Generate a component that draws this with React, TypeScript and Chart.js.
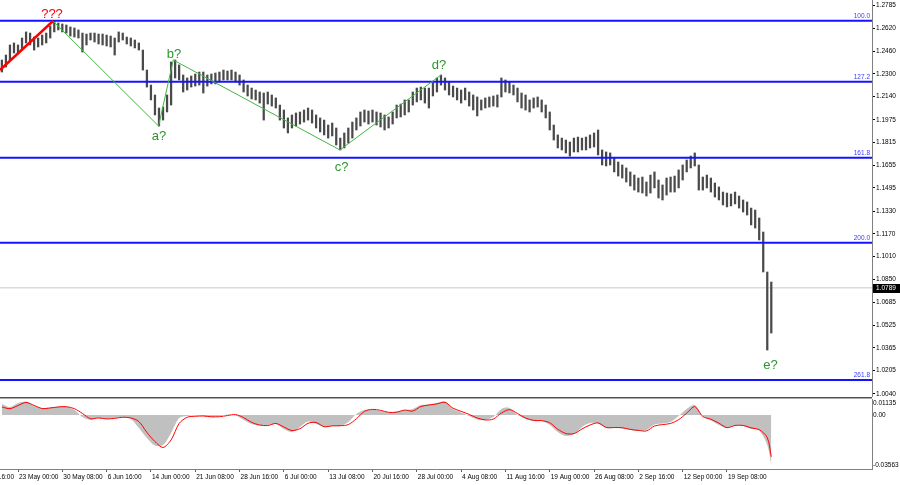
import { useEffect, useRef } from 'react';
import { Chart, registerables } from 'chart.js';

Chart.register(...registerables);

const FONT = '"Liberation Sans", Arial, sans-serif';

// Price bars (each bar ~ a few H4 candles): highs and lows
const barHigh = [
  1.2397, 1.2432, 1.2503, 1.2517, 1.2503, 1.2552, 1.2595, 1.2587, 1.2559, 1.2552,
  1.2573, 1.2587, 1.2637, 1.2672, 1.2658, 1.2651, 1.2644, 1.2630, 1.2623, 1.2609,
  1.2587, 1.2580, 1.2587, 1.2587, 1.2580, 1.2580, 1.2573, 1.2566, 1.2552, 1.2595,
  1.2587, 1.2559, 1.2552, 1.2538, 1.2517, 1.2467, 1.2326, 1.2220, 1.2150, 1.2058,
  1.2065, 1.2150, 1.2383, 1.2397, 1.2362, 1.2291, 1.2270, 1.2284, 1.2298, 1.2312,
  1.2312, 1.2291, 1.2298, 1.2305, 1.2312, 1.2326, 1.2319, 1.2326, 1.2312, 1.2291,
  1.2256, 1.2220, 1.2199, 1.2185, 1.2171, 1.2164, 1.2171, 1.2150, 1.2129, 1.2079,
  1.2044, 1.1988, 1.2009, 1.2023, 1.2030, 1.2044, 1.2058, 1.2044, 1.2009, 1.1988,
  1.1973, 1.1938, 1.1952, 1.1917, 1.1846, 1.1882, 1.1917, 1.1959, 1.1988, 1.2030,
  1.2044, 1.2037, 1.2044, 1.2030, 1.2023, 1.2009, 1.1995, 1.2030, 1.2079, 1.2086,
  1.2115, 1.2115, 1.2171, 1.2199, 1.2206, 1.2199, 1.2199, 1.2235, 1.2270, 1.2291,
  1.2270, 1.2242, 1.2213, 1.2199, 1.2185, 1.2199, 1.2171, 1.2150, 1.2136, 1.2115,
  1.2129, 1.2136, 1.2143, 1.2150, 1.2270, 1.2256, 1.2242, 1.2220, 1.2199, 1.2164,
  1.2150, 1.2115, 1.2129, 1.2136, 1.2115, 1.2079, 1.2030, 1.1938, 1.1868, 1.1846,
  1.1832, 1.1818, 1.1846, 1.1853, 1.1846, 1.1853, 1.1868, 1.1882, 1.1903, 1.1762,
  1.1748, 1.1741, 1.1705, 1.1677, 1.1656, 1.1635, 1.1607, 1.1585, 1.1564, 1.1571,
  1.1536, 1.1585, 1.1607, 1.1550, 1.1515, 1.1564, 1.1571, 1.1578, 1.1621, 1.1656,
  1.1691, 1.1719, 1.1741, 1.1656, 1.1571, 1.1585, 1.1564, 1.1529, 1.1501, 1.1465,
  1.1458, 1.1451, 1.1465, 1.1437, 1.1409, 1.1395, 1.1352, 1.1338, 1.1282, 1.1183,
  1.0901, 1.0830,
];
const barLow = [
  1.2312, 1.2347, 1.2397, 1.2446, 1.2439, 1.2467, 1.2517, 1.2503, 1.2467, 1.2489,
  1.2503, 1.2517, 1.2552, 1.2595, 1.2609, 1.2595, 1.2587, 1.2566, 1.2559, 1.2552,
  1.2453, 1.2503, 1.2538, 1.2524, 1.2510, 1.2503, 1.2496, 1.2489, 1.2432, 1.2524,
  1.2538, 1.2510, 1.2496, 1.2482, 1.2467, 1.2326, 1.2206, 1.2115, 1.2009, 1.1931,
  1.1973, 1.2030, 1.2079, 1.2270, 1.2256, 1.2171, 1.2185, 1.2206, 1.2213, 1.2220,
  1.2164, 1.2213, 1.2228, 1.2228, 1.2242, 1.2256, 1.2256, 1.2256, 1.2242, 1.2220,
  1.2171, 1.2143, 1.2122, 1.2115, 1.2093, 1.1973, 1.2086, 1.2072, 1.2058, 1.1973,
  1.1917, 1.1882, 1.1917, 1.1931, 1.1945, 1.1959, 1.1973, 1.1952, 1.1917, 1.1889,
  1.1868, 1.1846, 1.1861, 1.1797, 1.1762, 1.1776, 1.1811, 1.1846, 1.1903, 1.1931,
  1.1959, 1.1945, 1.1959, 1.1938, 1.1924, 1.1903, 1.1917, 1.1945, 1.1988, 1.1995,
  1.2009, 1.2030, 1.2079, 1.2101, 1.2115, 1.2093, 1.2058, 1.2143, 1.2171, 1.2220,
  1.2185, 1.2150, 1.2136, 1.2115, 1.2093, 1.2115, 1.2072, 1.2044, 1.2002, 1.2044,
  1.2058, 1.2065, 1.2072, 1.2065, 1.2136, 1.2171, 1.2164, 1.2150, 1.2101, 1.2058,
  1.2044, 1.2030, 1.2058, 1.2065, 1.2030, 1.1988, 1.1903, 1.1832, 1.1776, 1.1762,
  1.1741, 1.1719, 1.1748, 1.1748, 1.1762, 1.1762, 1.1776, 1.1783, 1.1727, 1.1656,
  1.1649, 1.1656, 1.1607, 1.1578, 1.1564, 1.1536, 1.1508, 1.1479, 1.1465, 1.1458,
  1.1437, 1.1458, 1.1494, 1.1423, 1.1409, 1.1444, 1.1465, 1.1465, 1.1494, 1.1550,
  1.1607, 1.1635, 1.1649, 1.1479, 1.1479, 1.1494, 1.1465, 1.1430, 1.1409, 1.1374,
  1.1360, 1.1367, 1.1381, 1.1352, 1.1324, 1.1303, 1.1233, 1.1211, 1.1127, 1.0901,
  1.0350, 1.0470,
];

// MACD (sampled every 2 bars, last value at the final bar)
const macdHist = [
  0.0078, 0.0057, 0.0085, 0.0096, 0.0064, 0.0050, 0.0053, 0.0060, 0.0060, 0.0035,
  -0.0014, -0.0035, -0.0021, -0.0028, -0.0021, -0.0014, -0.0028, -0.0092, -0.0163, -0.0216,
  -0.0213, -0.0128, -0.0021, -0.0007, -0.0004, -0.0007, -0.0014, -0.0007, 0.0004, -0.0004,
  -0.0035, -0.0064, -0.0074, -0.0071, -0.0064, -0.0099, -0.0121, -0.0085, -0.0046, -0.0064,
  -0.0085, -0.0078, -0.0078, -0.0050, 0.0007, 0.0035, 0.0039, 0.0028, 0.0018, 0.0025,
  0.0035, 0.0043, 0.0071, 0.0074, 0.0085, 0.0096, 0.0043, 0.0018, -0.0007, -0.0032,
  -0.0035, -0.0014, 0.0043, 0.0050, 0.0000, -0.0028, -0.0043, -0.0043, -0.0071, -0.0121,
  -0.0149, -0.0135, -0.0085, -0.0057, -0.0060, -0.0092, -0.0092, -0.0096, -0.0106, -0.0113,
  -0.0106, -0.0067, -0.0060, -0.0050, -0.0007, 0.0043, 0.0071, -0.0007, -0.0039, -0.0071,
  -0.0092, -0.0071, -0.0078, -0.0099, -0.0110, -0.0213, -0.0356,
];
const macdSignal = [
  0.0057, 0.0045, 0.0067, 0.0089, 0.0068, 0.0046, 0.0050, 0.0057, 0.0059, 0.0045,
  0.0011, -0.0026, -0.0021, -0.0028, -0.0024, -0.0016, -0.0021, -0.0046, -0.0124, -0.0188,
  -0.0230, -0.0177, -0.0060, -0.0016, -0.0009, -0.0007, -0.0013, -0.0012, -0.0004, 0.0003,
  -0.0018, -0.0052, -0.0071, -0.0075, -0.0060, -0.0085, -0.0110, -0.0097, -0.0059, -0.0053,
  -0.0083, -0.0077, -0.0076, -0.0068, -0.0027, 0.0026, 0.0040, 0.0033, 0.0019, 0.0020,
  0.0035, 0.0028, 0.0060, 0.0071, 0.0079, 0.0090, 0.0048, 0.0026, 0.0004, -0.0021,
  -0.0035, -0.0029, 0.0014, 0.0038, 0.0011, -0.0021, -0.0038, -0.0040, -0.0055, -0.0101,
  -0.0131, -0.0132, -0.0099, -0.0071, -0.0056, -0.0088, -0.0089, -0.0090, -0.0102, -0.0109,
  -0.0113, -0.0078, -0.0068, -0.0060, -0.0033, 0.0013, 0.0059, -0.0011, -0.0030, -0.0058,
  -0.0090, -0.0074, -0.0074, -0.0091, -0.0104, -0.0160, -0.0296,
];

const priceTicks = [
  1.2785, 1.262, 1.246, 1.23, 1.214, 1.1975, 1.1815, 1.1655, 1.1495,
  1.133, 1.117, 1.101, 1.085, 1.0685, 1.0525, 1.0365, 1.0205, 1.004,
];
const macdTickPos = [0.0085, 0, -0.03563];
const macdTickLabels = ['0.01135', '0.00', '-0.03563'];

const timeTickIdx = [-7, 4, 15, 26, 37, 48, 59, 70, 81, 92, 103, 114, 125, 136, 147, 158, 169, 180];
const timeTickLabels = [
  '13 May 16:00', '23 May 00:00', '30 May 08:00', '6 Jun 16:00', '14 Jun 00:00', '21 Jun 08:00',
  '28 Jun 16:00', '6 Jul 00:00', '13 Jul 08:00', '20 Jul 16:00', '28 Jul 00:00', '4 Aug 08:00',
  '11 Aug 16:00', '19 Aug 00:00', '26 Aug 08:00', '2 Sep 16:00', '12 Sep 00:00', '19 Sep 08:00',
];

const fibLevels = [1.2674, 1.2244, 1.1707, 1.1108, 1.0139];
const fibLabels = ['100.0', '127.2', '161.8', '200.0', '261.8'];
const lastPrice = 1.0789;

// Wave path (bar index, price)
const waveIdx = [12.7, 38.9, 42.55, 83.9, 109.0];
const wavePrice = [1.2672, 1.1931, 1.2397, 1.1762, 1.2291];
const redIdx = [-0.47, 12.7];
const redPrice = [1.2326, 1.2672];

const waveLabelText = ['???', 'a?', 'b?', 'c?', 'd?', 'e?'];
const waveLabelIdx = [12.44, 39.0, 42.73, 84.36, 108.5, 190.8];
const waveLabelPrice = [1.2718, 1.1856, 1.2436, 1.1642, 1.2358, 1.0242];
const waveLabelColor = ['#ff0000', '#2a962a', '#2a962a', '#2a962a', '#2a962a', '#2a962a'];

const X_MIN = -0.47;
const X_MAX = 216.0;
const PRICE_MIN = 1.00187;
const PRICE_MAX = 1.28203;
const MACD_MIN = -0.03828;
const MACD_MAX = 0.01135;

export default function App() {
  const mainRef = useRef<HTMLCanvasElement>(null);
  const macdRef = useRef<HTMLCanvasElement>(null);

  useEffect(() => {
    document.body.style.margin = '0';
    const hline = (v: number) => [
      { x: X_MIN, y: v },
      { x: X_MAX, y: v },
    ];
    const bars = barHigh.map((h, i) => ({ x: i, y: [barLow[i], h] }));
    const axisFont = { family: FONT, size: 6.5 };

    const mainOverlay = {
      id: 'mainOverlay',
      afterDatasetsDraw(chart: any) {
        const { ctx, chartArea } = chart;
        const xs = chart.scales.x;
        const ys = chart.scales.y;
        ctx.save();
        ctx.font = `6.5px ${FONT}`;
        ctx.fillStyle = '#3a3aff';
        ctx.textAlign = 'right';
        ctx.textBaseline = 'bottom';
        fibLevels.forEach((v, k) => {
          ctx.fillText(fibLabels[k], chartArea.right - 2, ys.getPixelForValue(v) - 1);
        });
        ctx.font = `13px ${FONT}`;
        ctx.textAlign = 'center';
        ctx.textBaseline = 'middle';
        waveLabelText.forEach((t, k) => {
          ctx.fillStyle = waveLabelColor[k];
          ctx.fillText(t, xs.getPixelForValue(waveLabelIdx[k]), ys.getPixelForValue(waveLabelPrice[k]));
        });
        ctx.restore();
      },
      afterDraw(chart: any) {
        const { ctx, chartArea } = chart;
        const ys = chart.scales.y;
        const py = Math.round(ys.getPixelForValue(lastPrice));
        ctx.save();
        ctx.fillStyle = '#000';
        ctx.fillRect(chartArea.right + 1, py - 4, 28, 9);
        ctx.fillStyle = '#fff';
        ctx.font = `6.5px ${FONT}`;
        ctx.textAlign = 'left';
        ctx.textBaseline = 'middle';
        ctx.fillText(lastPrice.toFixed(4), chartArea.right + 4, py + 0.5);
        ctx.restore();
      },
    };

    const main = new Chart(mainRef.current as HTMLCanvasElement, {
      type: 'bar',
      data: {
        datasets: [
          { type: 'line', data: hline(lastPrice), borderColor: '#c8c8c8', borderWidth: 1, pointRadius: 0, order: 10 },
          { type: 'bar', data: bars as any, backgroundColor: '#4a4a4a', barThickness: 1.6, order: 5 },
          ...fibLevels.map((v) => ({
            type: 'line' as const,
            data: hline(v),
            borderColor: '#1414ff',
            borderWidth: 2,
            pointRadius: 0,
            order: 3,
          })),
          {
            type: 'line',
            data: waveIdx.map((x, k) => ({ x, y: wavePrice[k] })),
            borderColor: '#46b446',
            borderWidth: 1,
            pointRadius: 0,
            order: 2,
          },
          {
            type: 'line',
            data: redIdx.map((x, k) => ({ x, y: redPrice[k] })),
            borderColor: '#ff0000',
            borderWidth: 2.5,
            pointRadius: 0,
            order: 1,
          },
        ] as any,
      },
      options: {
        animation: false,
        responsive: false,
        maintainAspectRatio: false,
        events: [],
        layout: { padding: 0 },
        plugins: { legend: { display: false }, tooltip: { enabled: false } },
        scales: {
          x: { type: 'linear', display: false, min: X_MIN, max: X_MAX, offset: false },
          y: {
            type: 'linear',
            position: 'right',
            min: PRICE_MIN,
            max: PRICE_MAX,
            afterBuildTicks: (s: any) => {
              s.ticks = priceTicks.map((v) => ({ value: v }));
            },
            afterFit: (s: any) => {
              s.width = 28;
              s.paddingTop = 0;
              s.paddingBottom = 0;
            },
            ticks: {
              autoSkip: false,
              padding: 1,
              color: '#000',
              font: axisFont,
              callback: (v: any) => Number(v).toFixed(4),
            },
            grid: { drawOnChartArea: false, drawTicks: true, tickLength: 3, color: '#000' },
            border: { display: true, color: '#808080', width: 1 },
          },
        },
      } as any,
      plugins: [mainOverlay],
    });

    const macdOverlay = {
      id: 'macdOverlay',
      afterDraw(chart: any) {
        const { ctx, chartArea } = chart;
        ctx.save();
        ctx.fillStyle = '#505050';
        ctx.fillRect(0, 0, chartArea.right, 1);
        ctx.fillStyle = '#a8a8a8';
        ctx.fillRect(0, 1, chartArea.right, 1);
        ctx.restore();
      },
    };

    const macdX = (k: number) => (k < macdHist.length - 1 ? k * 2 : barHigh.length - 1);

    const macd = new Chart(macdRef.current as HTMLCanvasElement, {
      type: 'line',
      data: {
        datasets: [
          {
            data: macdSignal.map((v, k) => ({ x: macdX(k), y: v })),
            borderColor: '#ff0000',
            borderWidth: 1,
            pointRadius: 0,
            tension: 0.3,
            fill: false,
            order: 1,
          },
          {
            data: macdHist.map((v, k) => ({ x: macdX(k), y: v })),
            borderColor: 'rgba(0,0,0,0)',
            borderWidth: 0,
            backgroundColor: '#c0c0c0',
            pointRadius: 0,
            tension: 0.3,
            fill: 'origin',
            order: 2,
          },
        ] as any,
      },
      options: {
        animation: false,
        responsive: false,
        maintainAspectRatio: false,
        events: [],
        layout: { padding: { top: 2, left: 0, right: 0, bottom: 0 } },
        plugins: { legend: { display: false }, tooltip: { enabled: false } },
        scales: {
          x: {
            type: 'linear',
            min: X_MIN,
            max: X_MAX,
            offset: false,
            afterBuildTicks: (s: any) => {
              s.ticks = timeTickIdx.map((v) => ({ value: v }));
            },
            afterFit: (s: any) => {
              s.height = 16;
              s.paddingLeft = 0;
              s.paddingRight = 0;
            },
            ticks: {
              autoSkip: false,
              maxRotation: 0,
              minRotation: 0,
              align: 'start',
              labelOffset: 1,
              padding: 1,
              color: '#000',
              font: axisFont,
              callback: (_v: any, i: number) => timeTickLabels[i],
            },
            grid: { drawOnChartArea: false, drawTicks: true, tickLength: 3, color: '#606060' },
            border: { display: true, color: '#808080', width: 1 },
          },
          y: {
            type: 'linear',
            position: 'right',
            min: MACD_MIN,
            max: MACD_MAX,
            afterBuildTicks: (s: any) => {
              s.ticks = macdTickPos.map((v) => ({ value: v }));
            },
            afterFit: (s: any) => {
              s.width = 28;
              s.paddingTop = 0;
              s.paddingBottom = 0;
            },
            ticks: {
              autoSkip: false,
              padding: 0,
              color: '#000',
              font: axisFont,
              callback: (_v: any, i: number) => macdTickLabels[i],
            },
            grid: { drawOnChartArea: false, drawTicks: true, tickLength: 1, color: 'rgba(0,0,0,0)' },
            border: { display: true, color: '#808080', width: 1 },
          },
        },
      } as any,
      plugins: [macdOverlay],
    });

    return () => {
      main.destroy();
      macd.destroy();
    };
  }, []);

  return (
    <div style={{ position: 'fixed', left: 0, top: 0, width: 900, height: 485, background: '#fff' }}>
      <canvas ref={mainRef} width={900} height={397} style={{ position: 'absolute', left: 0, top: 0 }} />
      <canvas ref={macdRef} width={900} height={88} style={{ position: 'absolute', left: 0, top: 397 }} />
    </div>
  );
}
